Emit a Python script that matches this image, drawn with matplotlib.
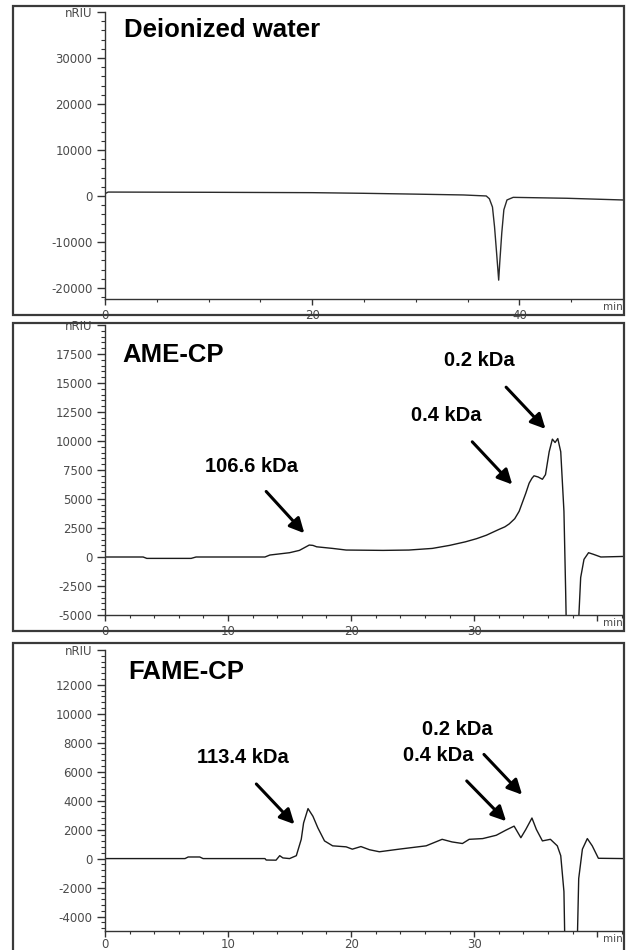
import matplotlib.pyplot as plt
from matplotlib.patches import Rectangle
from matplotlib.ticker import MultipleLocator

# chromatogram traces (time in min, signal in nRIU)
water_time = [0, 0.3, 10, 20, 25, 30, 34.6, 36.8, 37.1, 37.4, 37.6, 37.8, 38.0,
              38.1, 38.3, 38.5, 38.8, 39.4, 44.6, 50]
water_signal = [500, 850, 800, 720, 580, 400, 220, 0, -600, -2400, -6700, -12400, -18300,
                -14600, -8000, -3000, -870, -300, -500, -870]

ame_time = [0, 3.1, 3.4, 7.0, 7.4, 13.0, 13.4, 15.0, 15.8, 16.2, 16.6, 16.9, 17.2,
            18.5, 19.6, 22.6, 24.7, 26.6, 28.0, 29.3, 30.2, 31.0, 32.0, 32.5, 32.85,
            33.3, 33.66, 34.2, 34.47, 34.7, 34.87, 35.2, 35.55, 35.8, 36.1, 36.36,
            36.58, 36.8, 37.04, 37.3, 37.44, 37.6, 38.3, 38.47, 38.66, 38.93, 39.3,
            39.7, 40.3, 42.2]
ame_signal = [0, 0, -120, -120, 0, 0, 170, 370, 570, 800, 1030, 1000, 880,
              740, 600, 570, 600, 740, 1000, 1310, 1580, 1880, 2370, 2600, 2850,
              3300, 3940, 5500, 6360, 6790, 7000, 6900, 6700, 7100, 9075, 10160,
              9870, 10210, 9075, 3940, -3000, -12000, -12000, -6000, -1770, -200,
              370, 230, 0, 50]

fame_time = [0, 6.5, 6.76, 7.7, 7.97, 13.0, 13.1, 13.9, 14.2, 14.46, 15.0, 15.55,
             15.95, 16.14, 16.5, 16.9, 17.3, 17.84, 18.5, 19.6, 20.1, 20.8, 21.5,
             22.3, 23.9, 26.1, 27.4, 28.2, 29.05, 29.6, 30.7, 31.8, 32.6, 33.25,
             33.8, 34.2, 34.7, 35.06, 35.55, 36.2, 36.76, 37.04, 37.3, 37.44, 38.3,
             38.5, 38.8, 39.2, 39.6, 40.1, 42.2]
fame_signal = [0, 0, 110, 110, 0, 0, -100, -110, 200, 45, 0, 200,
               1330, 2460, 3450, 2920, 2120, 1220, 880, 810, 650, 830, 610,
               470, 650, 880, 1330, 1150, 1040, 1330, 1380, 1610, 1970, 2240,
               1440, 2010, 2800, 2010, 1220, 1330, 880, 200, -2280, -9000, -9000,
               -1380, 650, 1380, 880, 20, 0]

W, H = 626, 950
fig = plt.figure(figsize=(W / 100, H / 100), dpi=100)


def add_panel(left, top, right, bottom):
    return fig.add_axes([left / W, 1 - bottom / H, (right - left) / W, (bottom - top) / H])


def frame(top, bottom):
    fig.add_artist(Rectangle((13 / W, 1 - bottom / H), (624 - 13) / W, (bottom - top) / H,
                             transform=fig.transFigure, fill=False,
                             edgecolor='#3a3a3a', lw=1.6))


def style(ax, xlim, ylim, yticks, ytop, ymin, xticks, xlabels, xmin, xpad=3):
    ax.set_xlim(*xlim)
    ax.set_ylim(*ylim)
    for s in ('top', 'right'):
        ax.spines[s].set_visible(False)
    for s in ('left', 'bottom'):
        ax.spines[s].set_color('#333333')
        ax.spines[s].set_linewidth(1.0)
    ax.set_yticks(list(yticks) + [ytop])
    ax.set_yticklabels([str(v) for v in yticks] + ['nRIU'])
    ax.yaxis.set_minor_locator(MultipleLocator(ymin))
    ax.set_xticks(xticks)
    ax.set_xticklabels(xlabels)
    ax.xaxis.set_minor_locator(MultipleLocator(xmin))
    ax.tick_params(axis='y', which='major', length=6, width=1, color='#333333',
                   labelsize=8.5, labelcolor='#4a4a4a', pad=3)
    ax.tick_params(axis='y', which='minor', length=3, width=0.8, color='#333333')
    ax.tick_params(axis='x', which='major', length=4, width=1, color='#333333',
                   labelsize=8.5, labelcolor='#4a4a4a', pad=xpad)
    ax.tick_params(axis='x', which='minor', length=2, width=0.8, color='#333333')
    ax.text(1.0, -0.012, 'min', transform=ax.transAxes, ha='right', va='top',
            fontsize=7.5, color='#4a4a4a')


arrow = dict(arrowstyle='-|>', lw=2.2, color='black', mutation_scale=22, shrinkA=0, shrinkB=0)
label_font = dict(fontsize=14.5, fontweight='bold', family='Liberation Sans', ha='center', va='center')
title_font = dict(fontsize=18.5, fontweight='bold', family='Liberation Sans', va='center')

# panel 1: deionized water
frame(6, 315)
ax1 = add_panel(105, 12, 623, 299)
ax1.plot(water_time, water_signal, color='#2a2a2a', lw=1.0)
style(ax1, (0, 50), (-22400, 40000), range(-20000, 40000, 10000), 40000, 2000,
      [0, 20, 40], ['0', '20', '40'], 5)
fig.text(124 / W, 1 - 30 / H, 'Deionized water', **title_font)

# panel 2: AME-CP
frame(323, 631)
ax2 = add_panel(105, 325, 623, 615)
ax2.plot(ame_time, ame_signal, color='#1a1a1a', lw=1.0)
style(ax2, (0, 42.1), (-5000, 20000), range(-5000, 20000, 2500), 20000, 500,
      [0, 10, 20, 30, 40], ['0', '10', '20', '30', ''], 2)
fig.text(122 / W, 1 - 355 / H, 'AME-CP', **title_font)
ax2.text(11.9, 7790, '106.6 kDa', **label_font)
ax2.annotate('', xy=(16.2, 2050), xytext=(13.1, 5650), arrowprops=arrow)
ax2.text(27.7, 12160, '0.4 kDa', **label_font)
ax2.annotate('', xy=(33.1, 6250), xytext=(29.85, 9930), arrowprops=arrow)
ax2.text(30.4, 16950, '0.2 kDa', **label_font)
ax2.annotate('', xy=(35.8, 11040), xytext=(32.6, 14640), arrowprops=arrow)

# panel 3: FAME-CP
frame(643, 990)
ax3 = add_panel(105, 650, 623, 931)
ax3.plot(fame_time, fame_signal, color='#1a1a1a', lw=1.0)
style(ax3, (0, 42.1), (-5000, 14400), range(-4000, 14000, 2000), 14400, 400,
      [0, 10, 20, 30, 40], ['0', '10', '20', '30', ''], 2, xpad=1)
fig.text(128 / W, 1 - 672 / H, 'FAME-CP', **title_font)
ax3.text(11.2, 6980, '113.4 kDa', **label_font)
ax3.annotate('', xy=(15.4, 2370), xytext=(12.3, 5150), arrowprops=arrow)
ax3.text(28.6, 8880, '0.2 kDa', **label_font)
ax3.annotate('', xy=(33.9, 4410), xytext=(30.8, 7190), arrowprops=arrow)
ax3.text(27.1, 7120, '0.4 kDa', **label_font)
ax3.annotate('', xy=(32.6, 2580), xytext=(29.4, 5360), arrowprops=arrow)

fig.savefig('out.png', dpi=100)
